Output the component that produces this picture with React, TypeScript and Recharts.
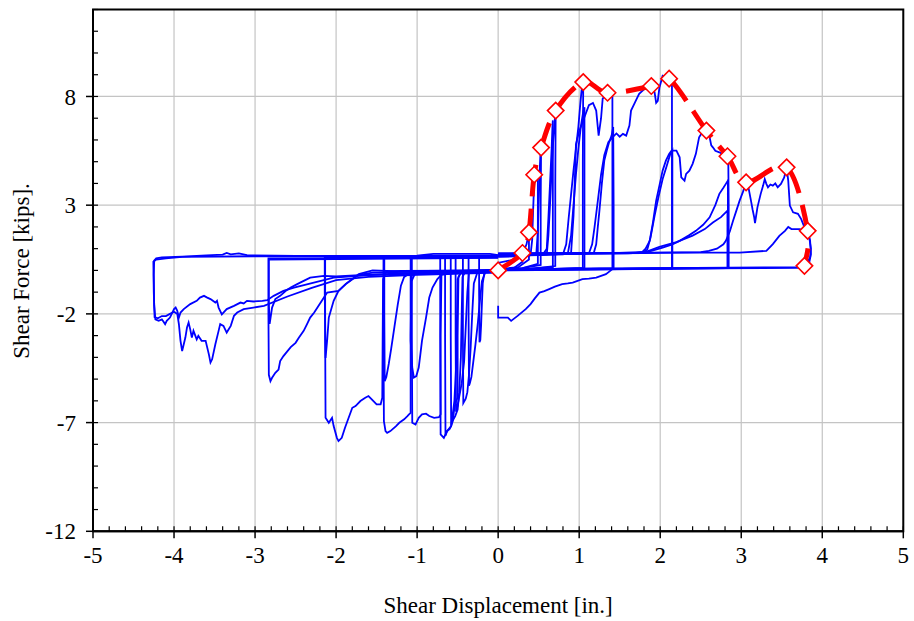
import React from "react";
import {
  ComposedChart,
  Line,
  XAxis,
  YAxis,
  CartesianGrid,
  ReferenceArea,
  Label,
} from "recharts";

// axis ticks
const xTicks = [-5, -4, -3, -2, -1, 0, 1, 2, 3, 4, 5];
const yTicks = [-12, -7, -2, 3, 8];
const xMinorTicks = Array.from({ length: 51 }, (_, i) => -5 + i * 0.2);
const yMinorTicks = Array.from({ length: 25 }, (_, i) => -12 + i);

// backbone (envelope) points [displacement, force]
const envelope = [
  [0, 0], [0.3, 0.8], [0.38, 1.75], [0.445, 4.4], [0.53, 5.65], [0.71, 7.35],
  [1.05, 8.66], [1.35, 8.17], [1.89, 8.48], [2.11, 8.82], [2.57, 6.43],
  [2.83, 5.25], [3.06, 4.05], [3.56, 4.74], [3.82, 1.82], [3.78, 0.21],
];

// positive half cycles
const pos030 = [[0, 0.02], [0.12, 0.25], [0.22, 0.5], [0.3, 0.8], [0.3, 0.4], [0.2, 0.12], [0, 0.02]];
const pos038 = [[0, 0.35], [0.2, 0.5], [0.3, 0.75], [0.35, 1.2], [0.38, 1.75], [0.38, 0.5], [0.25, 0.15], [0, 0.05]];
const pos049 = [[0, 0.62], [0.3, 0.66], [0.4, 0.72], [0.42, 1.4], [0.43, 2.6], [0.44, 3.6], [0.45, 4.4], [0.49, 4.35], [0.49, 2.0], [0.49, 0.3], [0.3, 0.1], [0, 0.05]];
const pos053 = [[0, 0.65], [0.35, 0.68], [0.47, 0.72], [0.49, 1.8], [0.5, 3.2], [0.51, 4.4], [0.52, 5.2], [0.53, 5.65], [0.525, 3.0], [0.525, 0.25], [0.3, 0.1], [0, 0.05]];
const pos071 = [[0, 0.66], [0.5, 0.7], [0.6, 0.74], [0.62, 1.6], [0.64, 3.0], [0.66, 4.6], [0.68, 6.0], [0.7, 7.0], [0.71, 7.35], [0.705, 4], [0.705, 0.2], [0.4, 0.08], [0, 0.04]];
const pos068 = [[0, 0.7], [0.55, 0.72], [0.6, 1.0], [0.62, 2.4], [0.64, 4.0], [0.66, 5.6], [0.67, 6.6], [0.675, 6.9], [0.675, 3], [0.675, 0.15], [0.3, 0.06], [0, 0.02]];
const pos104 = [[0, 0.68], [0.6, 0.72], [0.8, 0.74], [0.84, 1.2], [0.87, 2.4], [0.9, 3.5], [0.93, 4.6], [0.96, 5.6], [0.99, 6.6], [1.01, 7.5], [1.03, 8.3], [1.05, 8.66], [1.045, 5], [1.045, 0.12], [0.6, 0.06], [0, 0.03]];
const pos106 = [[0, 0.7], [0.7, 0.74], [0.86, 0.78], [0.9, 1.6], [0.93, 3.0], [0.96, 4.4], [0.99, 5.6], [1.02, 6.6], [1.05, 7.3], [1.065, 7.5], [1.065, 4], [1.065, 0.1], [0.5, 0.05], [0, 0.02]];
const pos141 = [[0, 0.72], [0.8, 0.76], [0.9, 0.8], [0.93, 2.5], [0.95, 4.6], [0.96, 5.8], [1.0, 6.4], [1.06, 7.0], [1.12, 7.6], [1.17, 7.7], [1.21, 7.35], [1.24, 6.2], [1.27, 7.0], [1.29, 7.9], [1.35, 8.17], [1.41, 8.0], [1.41, 4], [1.41, 0.1], [0.8, 0.06], [0, 0.03]];
const pos142 = [[0, 0.74], [1.0, 0.78], [1.18, 0.8], [1.21, 1.2], [1.23, 2.0], [1.25, 2.75], [1.28, 4.0], [1.31, 5.05], [1.34, 5.5], [1.37, 5.9], [1.4, 6.2], [1.42, 6.6], [1.425, 3], [1.425, 0.08], [0.7, 0.05], [0, 0.02]];
const pos214 = [[0, 0.72], [1.0, 0.76], [1.12, 0.78], [1.16, 1.2], [1.19, 2.0], [1.23, 3.2], [1.27, 4.4], [1.31, 5.3], [1.36, 5.9], [1.42, 6.15], [1.46, 6.3], [1.5, 6.15], [1.54, 6.28], [1.58, 6.2], [1.62, 6.66], [1.64, 7.35], [1.68, 7.66], [1.72, 7.97], [1.74, 8.12], [1.83, 8.43], [1.89, 8.48], [1.93, 8.2], [1.95, 7.71], [1.97, 7.8], [1.99, 8.4], [2.03, 8.95], [2.11, 8.82], [2.145, 8.7], [2.145, 4], [2.145, 0.08], [1.2, 0.04], [0, 0.0]];
const pos215 = [[0, 0.74], [1.6, 0.78], [1.78, 0.82], [1.84, 0.95], [1.88, 1.5], [1.93, 2.5], [1.98, 3.4], [2.03, 4.2], [2.08, 4.8], [2.12, 5.3], [2.15, 5.5], [2.15, 2], [2.15, 0.1], [1.3, 0.06], [0, 0.02]];
const pos284 = [[0, 0.74], [1.2, 0.78], [1.7, 0.8], [1.78, 0.85], [1.82, 1.0], [1.87, 1.36], [1.91, 2.2], [1.95, 3.21], [1.99, 3.9], [2.03, 4.59], [2.07, 5.05], [2.11, 5.35], [2.14, 5.51], [2.2, 5.51], [2.24, 5.2], [2.26, 4.28], [2.3, 4.13], [2.32, 4.44], [2.36, 4.59], [2.4, 4.9], [2.44, 5.36], [2.48, 6.12], [2.52, 6.35], [2.57, 6.43], [2.61, 6.12], [2.63, 5.75], [2.65, 5.66], [2.68, 5.5], [2.73, 5.43], [2.79, 5.3], [2.84, 5.1], [2.845, 3], [2.845, 0.1], [1.5, 0.06], [0, 0.02]];
const pos283 = [[0, 0.76], [1.5, 0.8], [1.85, 0.85], [2.03, 1.05], [2.15, 1.2], [2.24, 1.36], [2.35, 1.6], [2.44, 1.82], [2.53, 2.1], [2.61, 2.44], [2.68, 3.0], [2.73, 3.52], [2.78, 3.8], [2.81, 3.98], [2.835, 4.13], [2.835, 2], [2.835, 0.1], [1.5, 0.07], [0, 0.03]];
const pos282 = [[0, 0.78], [1.8, 0.82], [1.99, 1.08], [2.2, 1.3], [2.4, 1.6], [2.55, 1.9], [2.65, 2.2], [2.75, 2.45], [2.83, 2.75], [2.83, 0.12], [1.6, 0.08], [0, 0.04]];
const pos386 = [[0, 0.76], [1.8, 0.8], [2.5, 0.84], [2.6, 0.9], [2.7, 1.0], [2.78, 1.2], [2.81, 1.36], [2.86, 1.8], [2.9, 2.29], [2.94, 2.75], [2.98, 3.21], [3.02, 3.6], [3.06, 4.05], [3.08, 3.98], [3.1, 3.6], [3.12, 3.21], [3.14, 2.8], [3.16, 2.44], [3.17, 2.18], [3.2, 2.9], [3.24, 3.52], [3.27, 3.9], [3.29, 4.2], [3.31, 3.98], [3.33, 3.82], [3.36, 3.95], [3.39, 3.9], [3.42, 4.0], [3.45, 3.82], [3.49, 3.98], [3.53, 4.28], [3.56, 4.74], [3.58, 4.13], [3.6, 2.98], [3.64, 2.67], [3.7, 2.6], [3.74, 2.36], [3.78, 1.98], [3.82, 1.82], [3.85, 1.36], [3.86, 0.75], [3.84, 0.37], [3.79, 0.2], [3.7, 0.12], [2.0, 0.08], [0, 0.04]];
const pos385 = [[0, 0.78], [2.0, 0.82], [2.98, 0.82], [3.31, 0.9], [3.39, 1.21], [3.47, 1.59], [3.54, 1.82], [3.58, 2.0], [3.62, 1.9], [3.72, 1.9], [3.78, 1.82], [3.84, 1.5], [3.86, 1.0], [3.85, 0.6], [3.8, 0.3], [3.7, 0.15], [2.0, 0.1], [0, 0.05]];

// negative half cycles
const neg023 = [[0, 0.02], [-0.1, 0.0], [-0.17, -0.1], [-0.19, -0.6], [-0.2, -1.5], [-0.21, -2.5], [-0.22, -3.2], [-0.23, -3.3], [-0.235, -1], [-0.235, 0.62], [-0.1, 0.65], [0, 0.66]];
const neg036 = [[0, 0.02], [-0.15, 0], [-0.2, -0.5], [-0.22, -1.2], [-0.25, -2.4], [-0.28, -3.4], [-0.31, -4.3], [-0.33, -4.9], [-0.35, -5.2], [-0.36, -5.3], [-0.365, -2], [-0.365, 0.62], [0, 0.66]];
const neg043 = [[0, 0.01], [-0.25, -0.02], [-0.3, -0.6], [-0.32, -2], [-0.34, -3.6], [-0.36, -4.8], [-0.38, -5.6], [-0.4, -5.9], [-0.43, -6.1], [-0.435, -3], [-0.435, 0.6], [0, 0.66]];
const neg052 = [[0, 0.0], [-0.3, -0.02], [-0.36, -0.1], [-0.38, -1.0], [-0.4, -2.6], [-0.42, -4.2], [-0.45, -5.2], [-0.48, -5.8], [-0.5, -6.2], [-0.52, -6.5], [-0.525, -3], [-0.525, 0.62], [0, 0.67]];
const neg058 = [[0, 0.0], [-0.4, -0.02], [-0.44, -0.3], [-0.45, -2], [-0.46, -4], [-0.48, -5.6], [-0.5, -6.4], [-0.53, -6.7], [-0.56, -6.9], [-0.58, -7.0], [-0.585, -3], [-0.585, 0.64], [0, 0.67]];
const neg065 = [[0, 0.0], [-0.45, -0.02], [-0.5, -0.4], [-0.51, -2.5], [-0.52, -4.5], [-0.54, -6.0], [-0.56, -6.6], [-0.58, -7.16], [-0.6, -7.3], [-0.63, -7.39], [-0.65, -7.6], [-0.655, -3], [-0.655, 0.64], [0, 0.67]];
const neg071 = [[0, 0.0], [-0.45, -0.02], [-0.49, -0.3], [-0.5, -3], [-0.5, -5.86], [-0.52, -6.01], [-0.54, -6.32], [-0.56, -6.93], [-0.58, -7.16], [-0.63, -7.39], [-0.67, -7.7], [-0.71, -7.54], [-0.715, -3], [-0.715, 0.64], [0, 0.67]];
const neg106 = [[0, 0.0], [-0.65, -0.02], [-0.7, -0.2], [-0.71, -3], [-0.71, -6.62], [-0.73, -6.75], [-0.79, -6.78], [-0.85, -6.7], [-0.89, -6.59], [-0.94, -6.62], [-0.98, -6.78], [-1.02, -7.09], [-1.06, -7.01], [-1.065, -3], [-1.065, 0.65], [0, 0.67]];
const neg108 = [[0, -0.02], [-0.5, -0.1], [-0.7, -0.2], [-0.75, -0.4], [-0.81, -0.79], [-0.85, -1.25], [-0.89, -2.17], [-0.94, -3.24], [-0.96, -3.86], [-0.98, -4.47], [-1.01, -4.86], [-1.04, -4.93], [-1.06, -4.47], [-1.08, -3.24], [-1.08, 0.64], [0, 0.67]];
const neg141 = [[0, 0.0], [-0.9, -0.02], [-1.02, -0.1], [-1.07, -0.5], [-1.08, -3], [-1.08, -6.55], [-1.1, -6.62], [-1.12, -6.7], [-1.16, -6.85], [-1.22, -7.01], [-1.26, -7.16], [-1.33, -7.39], [-1.37, -7.47], [-1.39, -7.39], [-1.41, -6.93], [-1.415, -3], [-1.415, 0.65], [0, 0.67]];
const neg140 = [[0, -0.02], [-0.9, -0.1], [-1.1, -0.15], [-1.16, -0.3], [-1.2, -0.7], [-1.24, -1.6], [-1.28, -2.6], [-1.32, -3.6], [-1.35, -4.3], [-1.38, -4.9], [-1.4, -5.1], [-1.405, -2], [-1.405, 0.64], [0, 0.67]];
const neg213 = [[0, 0.0], [-1.2, -0.02], [-1.38, -0.05], [-1.42, -0.4], [-1.425, -3], [-1.43, -5.86], [-1.45, -6.16], [-1.5, -6.16], [-1.56, -5.93], [-1.6, -5.78], [-1.64, -5.86], [-1.7, -6.01], [-1.76, -6.24], [-1.8, -6.32], [-1.89, -7.24], [-1.93, -7.7], [-1.97, -7.85], [-1.99, -7.7], [-2.03, -7.16], [-2.05, -6.78], [-2.09, -7.01], [-2.13, -6.78], [-2.135, -3], [-2.135, 0.66], [0, 0.68]];
const neg214 = [[0, -0.04], [-1.3, -0.08], [-1.55, -0.1], [-1.72, -0.2], [-1.88, -0.63], [-1.97, -0.94], [-2.03, -1.4], [-2.09, -2.17], [-2.11, -3.2], [-2.13, -4.03], [-2.14, -1], [-2.14, 0.6], [0, 0.67]];
const neg283 = [[0, -0.02], [-1.2, -0.05], [-1.55, 0.0], [-1.72, -0.17], [-1.88, -0.62], [-1.97, -0.94], [-2.11, -1.02], [-2.15, -1.25], [-2.19, -1.48], [-2.23, -1.71], [-2.27, -1.94], [-2.32, -2.17], [-2.36, -2.48], [-2.4, -2.78], [-2.46, -3.1], [-2.5, -3.33], [-2.56, -3.53], [-2.6, -3.71], [-2.65, -3.94], [-2.69, -4.17], [-2.71, -4.56], [-2.75, -4.71], [-2.79, -4.94], [-2.81, -5.09], [-2.83, -4.8], [-2.835, -2], [-2.835, 0.55], [-2.0, 0.56], [0, 0.6]];
const neg282 = [[0, -0.05], [-1.0, -0.12], [-1.6, -0.2], [-2.0, -0.28], [-2.15, -0.25], [-2.32, -0.33], [-2.4, -0.48], [-2.48, -0.63], [-2.56, -0.79], [-2.62, -0.94], [-2.69, -1.17], [-2.75, -1.32], [-2.79, -1.71], [-2.82, -2.46], [-2.83, -1.5], [-2.83, 0.5], [-2.0, 0.52], [0, 0.58]];
const neg425 = [[0, -0.08], [-1.0, -0.15], [-1.6, -0.22], [-2.03, -0.33], [-2.52, -0.79], [-2.65, -0.94], [-2.77, -1.17], [-2.85, -1.37], [-2.91, -1.4], [-3.02, -1.43], [-3.1, -1.4], [-3.14, -1.52], [-3.18, -1.48], [-3.26, -1.63], [-3.35, -1.78], [-3.39, -1.94], [-3.41, -2.02], [-3.45, -1.71], [-3.47, -1.4], [-3.49, -1.48], [-3.55, -1.32], [-3.59, -1.25], [-3.63, -1.17], [-3.68, -1.25], [-3.72, -1.4], [-3.8, -1.55], [-3.88, -1.78], [-3.92, -1.94], [-3.94, -2.17], [-3.96, -1.86], [-3.98, -1.71], [-4.0, -1.78], [-4.05, -2.17], [-4.09, -2.32], [-4.11, -2.47], [-4.15, -2.25], [-4.19, -2.32], [-4.23, -2.25], [-4.245, -1.6], [-4.25, -0.2], [-4.245, 0.45], [-4.22, 0.55], [-4.15, 0.6], [-3.9, 0.63], [-3.6, 0.69], [-3.4, 0.73], [-3.35, 0.8], [-3.3, 0.74], [-3.2, 0.78], [-3.1, 0.7], [-2.5, 0.67], [-1.0, 0.68], [-0.8, 0.76], [-0.1, 0.76], [0, 0.7]];
const neg426 = [[0, -0.1], [-1.0, -0.2], [-1.6, -0.3], [-2.0, -0.45], [-2.3, -0.8], [-2.6, -1.2], [-2.89, -1.63], [-3.02, -1.71], [-3.14, -1.78], [-3.22, -1.94], [-3.26, -2.09], [-3.3, -2.55], [-3.35, -2.86], [-3.39, -2.55], [-3.43, -2.47], [-3.45, -2.78], [-3.49, -3.4], [-3.53, -4.09], [-3.55, -4.24], [-3.57, -3.86], [-3.61, -3.24], [-3.66, -3.24], [-3.7, -3.01], [-3.72, -3.17], [-3.76, -2.78], [-3.78, -3.09], [-3.8, -2.71], [-3.82, -2.4], [-3.84, -2.63], [-3.86, -3.09], [-3.88, -3.4], [-3.9, -3.71], [-3.92, -3.24], [-3.94, -2.47], [-3.96, -2.0], [-4.0, -1.9], [-4.05, -2.0], [-4.1, -2.1], [-4.15, -2.1], [-4.2, -2.2], [-4.24, -2.15], [-4.25, -1], [-4.255, 0.4], [-4.22, 0.5], [-4.1, 0.55], [-3.9, 0.62], [-3.0, 0.65], [-2.0, 0.66], [0, 0.67]];

// last excursion, starting below the origin
const finalRun = [[0, -1.63], [0, -2.17], [0.12, -2.17], [0.16, -2.32], [0.24, -2.09], [0.34, -1.78], [0.4, -1.55], [0.45, -1.3], [0.51, -1.02], [0.57, -0.95], [0.63, -0.86], [0.7, -0.75], [0.79, -0.63], [0.86, -0.6], [0.92, -0.56], [1.04, -0.4], [1.12, -0.38], [1.21, -0.33], [1.33, -0.17], [1.41, 0.06]];

const hysteresis = [
  neg426, neg425, neg282, neg283, neg214, neg213, neg140, neg141, neg108, neg106,
  neg071, neg065, neg058, neg052, neg043, neg036, neg023,
  pos030, pos038, pos049, pos053, pos068, pos071, pos104, pos106, pos141, pos142,
  pos214, pos215, pos284, pos283, pos282, pos386, pos385, finalRun,
];

const toPoints = (arr: number[][]) => arr.map(([x, y]) => ({ x, y }));

const FONT = "'Liberation Serif', 'Times New Roman', serif";

// minor axes draw only their tick marks
const NoLabel = () => null;

// Catmull-Rom smoothing for the envelope
const smooth = (context: any) => {
  let pts: number[][] = [];
  return {
    areaStart() {},
    areaEnd() {},
    lineStart() {
      pts = [];
    },
    point(x: number, y: number) {
      pts.push([+x, +y]);
    },
    lineEnd() {
      if (!pts.length) return;
      context.moveTo(pts[0][0], pts[0][1]);
      for (let i = 0; i < pts.length - 1; i++) {
        const p0 = pts[i - 1] || pts[i];
        const p1 = pts[i];
        const p2 = pts[i + 1];
        const p3 = pts[i + 2] || p2;
        context.bezierCurveTo(
          p1[0] + (p2[0] - p0[0]) / 6,
          p1[1] + (p2[1] - p0[1]) / 6,
          p2[0] - (p3[0] - p1[0]) / 6,
          p2[1] - (p3[1] - p1[1]) / 6,
          p2[0],
          p2[1]
        );
      }
    },
  };
};

const Diamond = (props: any) => {
  const { cx, cy } = props;
  if (cx == null || cy == null) return null;
  const r = 8.2;
  return (
    <path
      d={`M${cx},${cy - r}L${cx + r},${cy}L${cx},${cy + r}L${cx - r},${cy}Z`}
      fill="#ffffff"
      stroke="#ff0000"
      strokeWidth={1.6}
    />
  );
};

export default function App() {
  return (
    <div
      style={{
        position: "absolute",
        left: 0,
        top: 0,
        width: 914,
        height: 621,
        background: "#ffffff",
      }}
    >
      <ComposedChart
        width={914}
        height={621}
        margin={{ top: 9.5, right: 10.7, bottom: 88.7, left: 92 }}
      >
        <CartesianGrid stroke="#c4c4c4" strokeWidth={1.2} />

        <XAxis
          type="number"
          dataKey="x"
          domain={[-5, 5]}
          ticks={xTicks}
          interval={0}
          allowDataOverflow
          height={1}
          tickSize={7}
          tickMargin={8}
          axisLine={{ stroke: "#000", strokeWidth: 2 }}
          tickLine={{ stroke: "#000", strokeWidth: 1.5 }}
          tick={{ fill: "#000", fontFamily: FONT, fontSize: 23 }}
        >
          <Label
            value="Shear Displacement [in.]"
            position="bottom"
            offset={64}
            style={{ fill: "#000", fontFamily: FONT, fontSize: 23 }}
          />
        </XAxis>
        <XAxis
          xAxisId="minor"
          type="number"
          dataKey="x"
          domain={[-5, 5]}
          ticks={xMinorTicks}
          interval={0}
          allowDataOverflow
          height={1}
          mirror
          tickSize={5}
          tick={NoLabel}
          axisLine={false}
          tickLine={{ stroke: "#000", strokeWidth: 1.2 }}
        />

        <YAxis
          type="number"
          domain={[-12, 12]}
          ticks={yTicks}
          interval={0}
          allowDataOverflow
          width={1}
          tickSize={7}
          tickMargin={10}
          axisLine={{ stroke: "#000", strokeWidth: 2 }}
          tickLine={{ stroke: "#000", strokeWidth: 1.5 }}
          tick={{ fill: "#000", fontFamily: FONT, fontSize: 23 }}
        >
          <Label
            content={() => (
              <text
                x={21}
                y={271}
                transform="rotate(-90, 21, 271)"
                textAnchor="middle"
                dominantBaseline="central"
                fill="#000"
                fontFamily={FONT}
                fontSize={23}
              >
                Shear Force [kips].
              </text>
            )}
          />
        </YAxis>
        <YAxis
          yAxisId="minor"
          type="number"
          domain={[-12, 12]}
          ticks={yMinorTicks}
          interval={0}
          allowDataOverflow
          width={1}
          mirror
          tickSize={5}
          tick={NoLabel}
          axisLine={false}
          tickLine={{ stroke: "#000", strokeWidth: 1.2 }}
        />

        <ReferenceArea
          x1={-5}
          x2={5}
          y1={-12}
          y2={12}
          fill="none"
          stroke="#000"
          strokeWidth={2}
          ifOverflow="visible"
        />

        {hysteresis.map((cycle, i) => (
          <Line
            key={i}
            data={toPoints(cycle)}
            dataKey="y"
            type="linear"
            stroke="#0000ff"
            strokeWidth={1.8}
            dot={false}
            activeDot={false}
            isAnimationActive={false}
          />
        ))}

        {/* the backbone also binds the minor axes so they get a scale */}
        <Line
          data={toPoints(envelope)}
          dataKey="y"
          xAxisId="minor"
          yAxisId="minor"
          type="linear"
          stroke="none"
          dot={false}
          activeDot={false}
          isAnimationActive={false}
        />

        <Line
          data={toPoints(envelope)}
          dataKey="y"
          type={smooth as any}
          stroke="#ff0000"
          strokeWidth={5}
          strokeDasharray="32 12"
          dot={<Diamond />}
          activeDot={false}
          isAnimationActive={false}
        />
      </ComposedChart>
    </div>
  );
}
